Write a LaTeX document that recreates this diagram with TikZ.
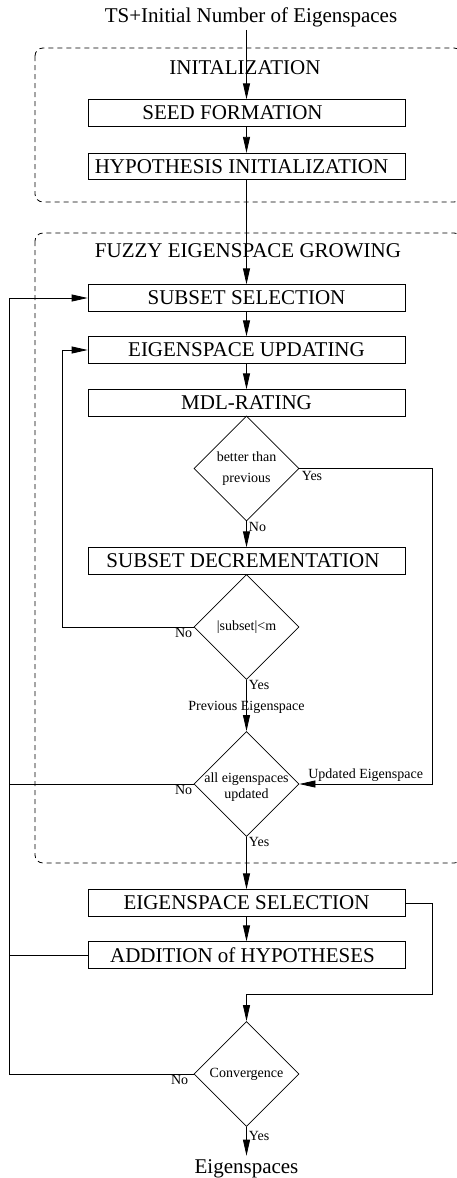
\documentclass[tikz,border=0pt]{standalone}
\usepackage{fontspec}
\setmainfont{Liberation Serif}
\usetikzlibrary{shapes.geometric,arrows.meta}

\begin{document}
\begin{tikzpicture}[x=1pt,y=-1pt,line width=0.8pt,
  stage/.style={draw,minimum width=317pt,minimum height=26.5pt,inner sep=0pt,font=\fontsize{21}{24}\selectfont},
  test/.style={diamond,draw,minimum width=105pt,minimum height=105pt,inner sep=0pt},
  big/.style={font=\fontsize{21}{24}\selectfont},
  tag/.style={font=\fontsize{14}{16}\selectfont,inner sep=2pt},
  flow/.style={-{Triangle[length=16pt,width=7pt]}},
  frame/.style={dash pattern=on 5pt off 4pt,rounded corners=8pt}]
\useasboundingbox (0,0) rectangle (456,1178);
% dashed frames
\draw[frame] (35,48) rectangle (462,202);
\draw[frame] (35,233) rectangle (462,863);
\node[big] (initlbl) at (245,68) {INITALIZATION};
\node[big] (growlbl) at (248,251) {FUZZY EIGENSPACE GROWING};
% buses for the feedback lines
\coordinate (backbus) at (9,0);
\coordinate (innerbus) at (62,0);
\coordinate (rightbus) at (432,0);
\coordinate (merge) at (246.5,994);
% nodes
\node[big,anchor=base,inner sep=3pt] (input) at (251,22) {TS+Initial Number of Eigenspaces};
\node[stage] (seed) at (246.5,113) {SEED FORMATION\kern28pt};
\node[stage] (hypinit) at (246.5,166.5) {HYPOTHESIS INITIALIZATION\kern10pt};
\node[stage] (subsel) at (246.5,298) {SUBSET SELECTION};
\node[stage] (eigupd) at (246.5,350) {EIGENSPACE UPDATING};
\node[stage] (mdl) at (246.5,403) {MDL-RATING};
\node[test,label={[tag,align=center]center:{better than\\[5pt]previous}}] (better) at (246.5,468.5) {};
\node[stage] (decr) at (246.5,561) {SUBSET DECREMENTATION\kern7pt};
\node[test,label={[tag]center:{|subset|<m}}] (size) at (246.5,627) {};
\node[test,label={[tag,align=center,yshift=-3pt]center:{all eigenspaces\\updated}}] (allupd) at (246.5,784) {};
\node[stage] (eigsel) at (246.5,903) {EIGENSPACE SELECTION};
\node[stage] (addhyp) at (246.5,955) {ADDITION of HYPOTHESES\kern8pt};
\node[test,label={[tag]center:{Convergence}}] (conv) at (246.5,1074) {};
\node[big,anchor=base,inner sep=3pt] (output) at (246.5,1173) {Eigenspaces};
% connectors
\draw[flow] (input.south -| seed) -- (seed);
\draw[flow] (seed) -- (hypinit);
\draw[flow] (hypinit) -- (subsel);
\draw[flow] (subsel) -- (eigupd);
\draw[flow] (eigupd) -- (mdl);
\draw[flow] (better.south) -- node[tag,pos=0.2,right]{No} (decr.north);
\draw[flow] (better.east) node[tag,below right]{Yes} -- (better.east -| rightbus)
  |- node[tag,pos=0.75,above]{Updated Eigenspace} (allupd.east);
\draw[flow] (size.west) node[tag,below left,inner sep=1pt]{No} -- (size.west -| innerbus) |- (eigupd.west);
\draw[flow] (size.south) -- node[tag,pos=0.1,right]{Yes} node[tag,pos=0.53]{Previous Eigenspace} (allupd.north);
\draw (allupd.west) node[tag,below left,inner sep=1pt]{No} -- (allupd.west -| backbus);
\draw[flow] (allupd.south) -- node[tag,pos=0.1,right]{Yes} (eigsel.north);
\draw[flow] (eigsel) -- (addhyp);
\draw (addhyp.west) -- (addhyp.west -| backbus);
\draw[flow] (eigsel.east) -- (eigsel.east -| rightbus) |- (merge) -- (conv.north);
\draw[flow] (conv.west) node[tag,below left,inner sep=1pt,xshift=-4pt]{No} -- (conv.west -| backbus) |- (subsel.west);
\draw[flow] (conv.south) -- node[tag,pos=0.3,right]{Yes} (output);
\end{tikzpicture}
\end{document}
